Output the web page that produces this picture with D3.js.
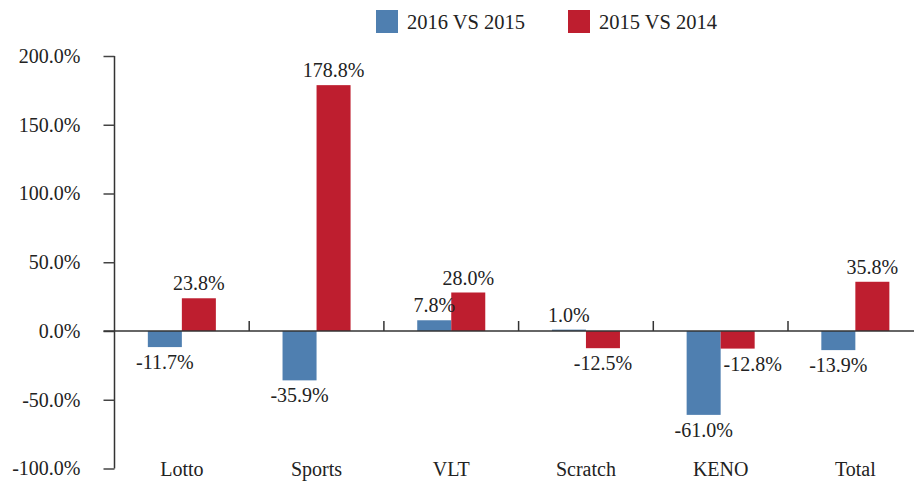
<!DOCTYPE html>
<html lang="en">
<head>
    <meta charset="UTF-8">
    <title>Growth by product</title>
    <script src="https://cdn.jsdelivr.net/npm/d3@7"></script>
    <style>
        body { margin: 0; background: #fff; }
        svg text { font-family: 'Liberation Serif', 'Times New Roman', serif !important; fill: #222; }
    </style>
</head>
<body>
    <div id="chart"></div>
    <script>
        var categories = ["Lotto", "Sports", "VLT", "Scratch", "KENO", "Total"];
        var seriesNames = ["2016 VS 2015", "2015 VS 2014"];
        var vs2015 = [-11.7, -35.9, 7.8, 1.0, -61.0, -13.9];
        var vs2014 = [23.8, 178.8, 28.0, -12.5, -12.8, 35.8];
        var yTicks = [-100, -50, 0, 50, 100, 150, 200];
        var colors = ["#4f7fb0", "#be1e2f"];

        var w = 914, h = 482;
        var left = 114.5, step = 134.7;
        var serif = "'Liberation Serif', 'Times New Roman', serif";

        var rows = [];
        categories.forEach(function(c, i) {
            rows.push({ cat: c, key: seriesNames[0], value: vs2015[i] });
            rows.push({ cat: c, key: seriesNames[1], value: vs2014[i] });
        });

        var svg = d3.select("#chart").append("svg")
            .attr("width", w)
            .attr("height", h)
            .attr("font-family", serif);

        var x = d3.scaleBand()
            .domain(categories)
            .range([left, left + step * categories.length])
            .padding(0);

        var xs = d3.scaleBand()
            .domain(seriesNames)
            .range([0, x.bandwidth()])
            .paddingInner(0)
            .paddingOuter(0.98);

        var y = d3.scaleLinear()
            .domain([-100, 200])
            .range([468.5, 56]);

        // legend
        var legend = svg.append("g").attr("transform", "translate(376,10)");
        seriesNames.forEach(function(s, i) {
            var g = legend.append("g").attr("transform", "translate(" + (i * 192) + ",0)");
            g.append("rect").attr("width", 22).attr("height", 23).attr("fill", colors[i]);
            g.append("text")
                .attr("x", 31)
                .attr("y", 18.5)
                .attr("font-family", serif)
                .style("font-size", "20.5px")
                .text(s);
        });

        // y axis
        var yAxis = svg.append("g")
            .attr("transform", "translate(" + left + ",0)")
            .call(d3.axisLeft(y).tickValues(yTicks).tickSize(11).tickPadding(23)
                .tickFormat(function(d) { return d.toFixed(1) + "%"; }));
        yAxis.attr("font-family", serif);
        yAxis.select(".domain").attr("d", "M0," + y(200) + "V" + y(-100))
            .attr("stroke", "#333").attr("stroke-width", 1.5);
        yAxis.selectAll(".tick line").attr("stroke", "#444").attr("stroke-width", 1.5);
        yAxis.selectAll(".tick text")
            .style("font-size", "20px")
            .attr("fill", "#222");

        // bars
        svg.selectAll(".bar")
            .data(rows)
            .enter()
            .append("rect")
            .attr("class", "bar")
            .attr("x", d => x(d.cat) + xs(d.key))
            .attr("y", d => y(Math.max(0, d.value)))
            .attr("width", xs.bandwidth())
            .attr("height", d => Math.abs(y(d.value) - y(0)))
            .attr("fill", d => colors[seriesNames.indexOf(d.key)]);

        // x axis line with ticks pointing up at category boundaries
        var y0 = y(0);
        svg.append("line")
            .attr("x1", left - 11).attr("x2", w + 20)
            .attr("y1", y0).attr("y2", y0)
            .attr("stroke", "#333").attr("stroke-width", 1.5);
        svg.selectAll(".xtick")
            .data(categories.slice(1).concat(["__end"]))
            .enter()
            .append("line")
            .attr("class", "xtick")
            .attr("x1", d => d === "__end" ? x.range()[1] : x(d))
            .attr("x2", d => d === "__end" ? x.range()[1] : x(d))
            .attr("y1", y0).attr("y2", y0 - 10)
            .attr("stroke", "#333").attr("stroke-width", 1.5);

        // category labels
        svg.selectAll(".cat")
            .data(categories)
            .enter()
            .append("text")
            .attr("class", "cat")
            .attr("x", d => x(d) + x.bandwidth() / 2)
            .attr("y", 476)
            .attr("text-anchor", "middle")
            .style("font-size", "20px")
            .text(d => d);

        // value labels
        svg.selectAll(".val")
            .data(rows)
            .enter()
            .append("text")
            .attr("class", "val")
            .attr("x", function(d, i) {
                var cx = x(d.cat) + xs(d.key) + xs.bandwidth() / 2;
                // shift right when the neighbouring bar would overlap the label
                if (d.key === seriesNames[1] && d.value < 0) {
                    var other = rows[i - 1];
                    if (other.value < d.value) cx += 15;
                }
                return cx;
            })
            .attr("y", d => d.value >= 0 ? y(d.value) - 8 : y(d.value) + 22)
            .attr("text-anchor", "middle")
            .style("font-size", "20px")
            .text(d => d.value.toFixed(1) + "%");
    </script>
</body>
</html>
